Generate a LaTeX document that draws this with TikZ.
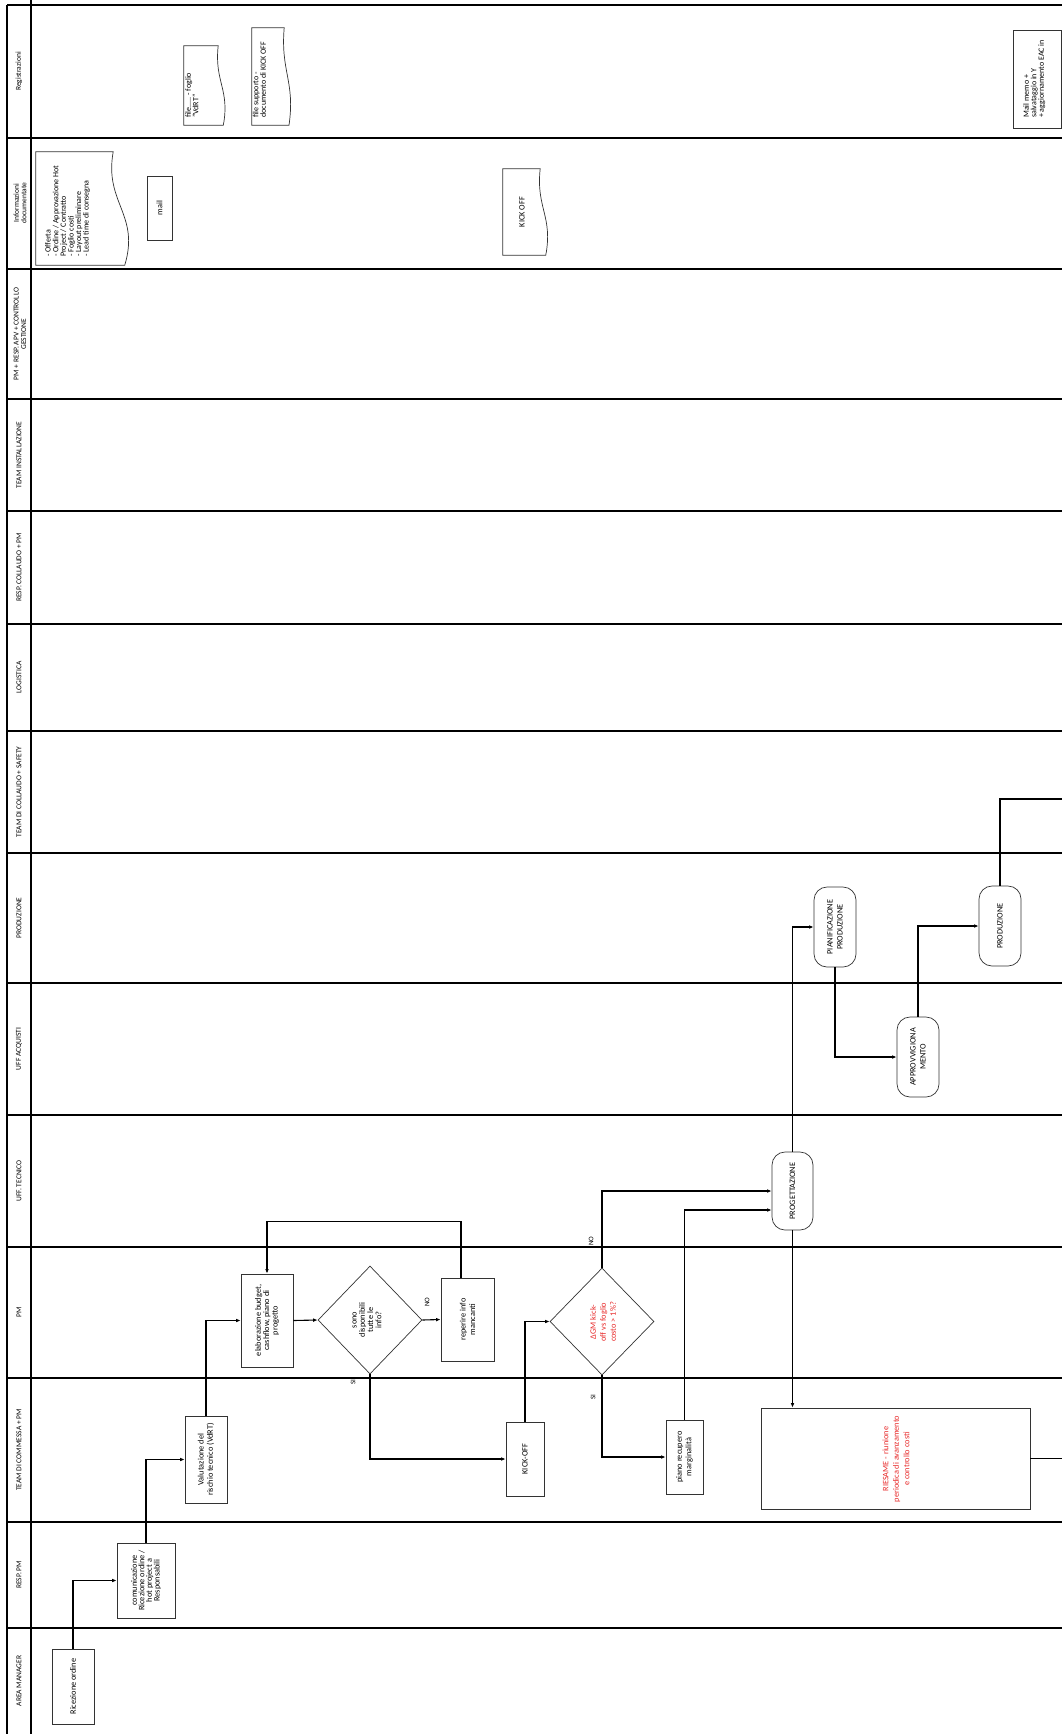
\documentclass[tikz,border=0pt]{standalone}
\usepackage{fontspec}
\setmainfont{Carlito}
\usetikzlibrary{shapes.geometric,arrows.meta,calc}
\definecolor{redtxt}{RGB}{232,40,40}
\newcommand\mydocpath[2]{%
  \draw[boxline] (#1.south west) -- (#1.north west) -- (#1.north east)
    .. controls ($(#1.north east)!0.45!(#1.south east)+(-0.12*#2,0)$)
       and ($(#1.north east)!0.55!(#1.south east)+(0.35*#2,0)$)
    .. ($(#1.south east)+(0.15*#2,0)$) -- cycle;}
\begin{document}
\begin{tikzpicture}[x=1pt,y=-1pt,
  lane/.style={line width=1.8pt,black},
  hdr/.style={rotate=90,font=\fontsize{7.5}{7.4}\selectfont,align=center,inner sep=0},
  boxline/.style={draw=black!80,line width=0.7pt},
  box/.style={boxline,fill=white,inner sep=0},
  rbox/.style={box,rounded corners=13pt},
  diam/.style={box,diamond,inner sep=0},
  docn/.style={inner sep=0,draw=none},
  txt/.style={rotate=90,font=\fontsize{8.3}{#1}\selectfont,align=center,inner sep=0},
  txt/.default=9.5,
  ltxt/.style={rotate=90,font=\fontsize{8}{7.6}\selectfont,align=left,inner sep=0,anchor=north west},
  conn/.style={line width=1.1pt,black},
  arr/.style={conn,-{Latex[length=4.5pt,width=3.6pt]}},
  lbl/.style={rotate=90,font=\fontsize{7}{8}\selectfont,inner sep=0}
]
\useasboundingbox (0,0) rectangle (1062,1734);
\fill[white] (0,0) rectangle (1062,1734);

% ---- lanes
\foreach \yy in {5,138,269,399,511,624,731,853,983,1115,1247,1378,1522,1628}
  \draw[lane] (7,\yy) -- (1062,\yy);
\draw[lane] (7,5) -- (7,1734);
\draw[lane] (31,0) -- (31,1734);

\node[hdr] (h1) at (19,71.5) {Registrazioni};
\node[hdr] (h2) at (20,203) {Informazioni\\documentate};
\node[hdr] (h3) at (20,334) {PM + RESP. APV + CONTROLLO\\GESTIONE};
\node[hdr] (h4) at (19,455) {TEAM INSTALLAZIONE};
\node[hdr] (h5) at (19,567.5) {RESP. COLLAUDO + PM};
\node[hdr] (h6) at (19,677.5) {LOGISTICA};
\node[hdr] (h7) at (19,792) {TEAM DI COLLAUDO + SAFETY};
\node[hdr] (h8) at (19,918) {PRODUZIONE};
\node[hdr] (h9) at (19,1049) {UFF ACQUISTI};
\node[hdr] (h10) at (19,1181) {UFF. TECNICO};
\node[hdr] (h11) at (19,1312.5) {PM};
\node[hdr] (h12) at (19,1450) {TEAM DI COMMESSA + PM};
\node[hdr] (h13) at (19,1575) {RESP. PM};
\node[hdr] (h14) at (19,1681) {AREA MANAGER};

% ---- documents
\node[docn,minimum width=34,minimum height=79] (d1) at (201,85.5) {};
\mydocpath{d1}{34}
\node[ltxt] at (185,118) {file..... - foglio\\"VdRT"};

\node[docn,minimum width=32,minimum height=97] (d2) at (268,76.5) {};
\mydocpath{d2}{32}
\node[ltxt] at (252.5,118) {file supporto -\\documento di KICK OFF};

\node[box,minimum width=48,minimum height=98] (d3) at (1037,79) {};
\node[ltxt] at (1023,118) {Mail memo +\\salvataggio in Y\\+ aggiornamento EAC in};

\node[docn,minimum width=77,minimum height=113] (d4) at (74.5,208.5) {};
\mydocpath{d4}{77}
\node[ltxt] at (45,257) {- Offerta\\- Ordine / Approvazione Hot\\Project / Contratto\\- Foglio costi\\- Layout preliminare\\- Lead time di consegna};

\node[box,minimum width=25,minimum height=64] (d5) at (159.5,208) {};
\node[txt] at (d5) {mail};

\node[docn,minimum width=37,minimum height=86] (d6) at (521.5,212) {};
\mydocpath{d6}{37}
\node[txt] at (522,212) {KICK OFF};

% ---- process nodes
\node[box,minimum width=42,minimum height=75] (ric) at (73,1686.5) {};
\node[txt] at (ric) {Ricezione ordine};

\node[box,minimum width=58,minimum height=75] (com) at (146,1580.5) {};
\node[txt=7.6] at (com) {comunicazione\\Ricezione ordine /\\hot project a\\Responsabili};

\node[box,minimum width=42,minimum height=87] (val) at (206,1459.5) {};
\node[txt=9.2] at (val) {Valutazione del\\rischio tecnico (VdRT)};

\node[box,minimum width=52,minimum height=93] (elab) at (267,1320.5) {};
\node[txt=8.4] at (elab) {elaborazione budget,\\cashflow, piano di\\progetto};

\node[diam,minimum width=104,minimum height=108] (dia1) at (370,1320) {};
\node[txt=8.2] at (367,1320) {sono\\disponibili\\tutte le\\info?};

\node[box,minimum width=53,minimum height=83] (rep) at (467.5,1319.5) {};
\node[txt] at (rep) {reperire info\\mancanti};

\node[box,minimum width=38,minimum height=74] (kick) at (525,1459) {};
\node[txt] at (kick) {KICK-OFF};

\node[diam,minimum width=104,minimum height=107] (dia2) at (602,1321.5) {};
\node[txt=10,text=redtxt] at (603,1322) {ΔGM kick-\\off vs foglio\\costo > 1\%?};

\node[box,minimum width=37,minimum height=74] (piano) at (684.5,1457) {};
\node[txt] at (piano) {piano recupero\\marginalità};

\node[rbox,minimum width=41,minimum height=78] (prog) at (792.5,1191) {};
\node[txt] at (prog) {PROGETTAZIONE};

\node[box,minimum width=269,minimum height=101] (ries) at (895.5,1458.5) {};
\node[txt=10.5,text=redtxt] at (896,1459) {RIESAME - riunione\\periodica di avanzamento\\e controllo costi};

\node[rbox,minimum width=42,minimum height=80] (pian) at (835,927) {};
\node[txt=10] at (pian) {PIANIFICAZIONE\\PRODUZIONE};

\node[rbox,minimum width=42,minimum height=80] (appr) at (918,1057) {};
\node[txt=10] at (appr) {APPROVVIGIONA\\MENTO};

\node[rbox,minimum width=42,minimum height=80] (prod) at (1000,926) {};
\node[txt] at (prod) {PRODUZIONE};

\coordinate (exit1) at (1062,799);
\coordinate (exit2) at (1062,1458.5);

% ---- connectors
\draw[arr] (ric.north) |- (com.west);
\draw[arr] (com.north) |- (val.west);
\draw[arr] (val.north) |- (elab.west);
\draw[arr] (elab.east) -- (dia1.west);
\draw[arr] (dia1.east) -- (rep.west);
\node[lbl] at (427,1302) {NO};
\draw[arr] ([xshift=-6.5pt]rep.north) -- ++(0,-56) -| (elab.north);
\draw[arr] (dia1.south) |- (kick.west);
\node[lbl] at (353,1382) {SI};
\draw[arr] (kick.north) |- (dia2.west);
\draw[arr] (dia2.north) |- (prog.west);
\node[lbl] at (591,1241) {NO};
\draw[arr] (dia2.south) |- (piano.west);
\node[lbl] at (593,1397) {SI};
\draw[arr] (piano.north) |- ([yshift=-19pt]prog.west);
\draw[arr] (prog.south) -- (prog.south |- ries.north);
\draw[arr] (prog.north) |- (pian.west);
\draw[arr] (pian.south) |- (appr.west);
\draw[arr] (appr.north) |- (prod.west);
\draw[conn] (prod.north) |- (exit1);
\draw[conn] (ries.east) -- (exit2);
\end{tikzpicture}
\end{document}
